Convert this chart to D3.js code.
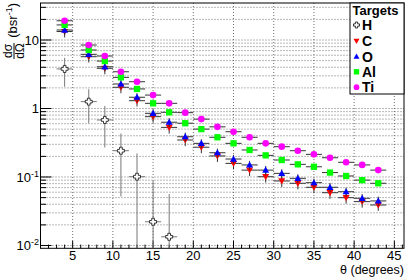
<!DOCTYPE html>
<html><head><meta charset="utf-8">
<script src="https://cdn.jsdelivr.net/npm/d3@7"></script>
<style>body{margin:0;background:#fff}svg{display:block}text{font-family:"Liberation Sans",Arial,Helvetica,sans-serif}</style>
</head><body><svg id="c" width="407" height="277"></svg>
<script>
// ---- data ----
const thetaH = [4,7,9,11,13,15,17];
const valH   = [3.78,1.26,0.68,0.242,0.101,0.0222,0.0134];
const errH   = [1.7,0.65,0.41,0.19,0.12,0.065,0.043];
const theta  = [4,7,9,11,13,15,17,19,21,23,25,27,29,31,33,35,37,39,41,43];
const thetaHalfWidth = 1;
const valC  = [13.3,5.7,3.86,2.04,1.30,0.76,0.53,0.347,0.272,0.203,0.158,0.126,0.101,0.0875,0.081,0.0708,0.059,0.0499,0.0437,0.039];
const errC  = [2.4,1.0,0.7,0.37,0.23,0.14,0.1,0.065,0.05,0.037,0.029,0.023,0.018,0.016,0.015,0.013,0.011,0.009,0.008,0.007];
const valO  = [14.0,6.18,4.07,2.28,1.46,0.851,0.63,0.387,0.31,0.226,0.183,0.150,0.126,0.113,0.0957,0.0826,0.0708,0.061,0.0489,0.0447];
const errO  = [2.1,0.9,0.6,0.34,0.22,0.13,0.095,0.058,0.046,0.034,0.027,0.022,0.019,0.017,0.014,0.012,0.011,0.009,0.0075,0.007];
const valAl = [16.6,7.15,4.93,2.85,1.93,1.19,0.88,0.61,0.50,0.38,0.31,0.248,0.207,0.177,0.153,0.141,0.116,0.1035,0.090,0.081];
const errAl = [1.2,0.5,0.35,0.2,0.13,0.085,0.06,0.043,0.035,0.027,0.022,0.017,0.015,0.012,0.011,0.01,0.008,0.007,0.006,0.006];
const valTi = [19.1,8.45,5.84,3.44,2.46,1.57,1.19,0.87,0.70,0.54,0.458,0.38,0.31,0.277,0.242,0.214,0.191,0.164,0.150,0.126];
const errTi = [1.3,0.6,0.4,0.24,0.17,0.11,0.08,0.06,0.05,0.038,0.032,0.027,0.022,0.019,0.017,0.015,0.013,0.011,0.01,0.009];
const xTicks = [5,10,15,20,25,30,35,40,45];
const yTickLabels = [{v:10,b:"10",e:""},{v:1,b:"1",e:""},{v:0.1,b:"10",e:"-1"},{v:0.01,b:"10",e:"-2"}];
const legendTitle = "Targets";
const seriesNames = ["H","C","O","Al","Ti"];

// ---- layout ----
const L=40.5, R=404, T=3, B=248.3;
const x = d3.scaleLinear().domain([1,46.2]).range([L,R]);
const y = d3.scaleLog().domain([0.0091,34.7]).range([B,T]);
const svg = d3.select("#c");

// grid
const grid = svg.append("g").attr("stroke","#000").attr("stroke-width",0.8).attr("stroke-dasharray","1,2").attr("opacity",0.7);
xTicks.forEach(t=>grid.append("line").attr("x1",x(t)).attr("x2",x(t)).attr("y1",T).attr("y2",B));
const yGridVals=[];
for(let e=-2;e<=1;e++) for(let m=1;m<=9;m++){const v=m*Math.pow(10,e); if(v>=0.0091&&v<=34.7) yGridVals.push(v);}
yGridVals.forEach(v=>grid.append("line").attr("x1",L).attr("x2",R).attr("y1",y(v)).attr("y2",y(v)));

// axes ticks
const ax = svg.append("g").attr("stroke","#000").attr("stroke-width",1);
for(let t=1;t<=46;t++){
  const len = (t%5===0)?7.4:3.7;
  ax.append("line").attr("x1",x(t)).attr("x2",x(t)).attr("y1",B).attr("y2",B-len);
}
yGridVals.forEach(v=>{
  const major = Math.abs(Math.log10(v)-Math.round(Math.log10(v)))<1e-9;
  ax.append("line").attr("x1",L).attr("x2",L+(major?11:5.5)).attr("y1",y(v)).attr("y2",y(v));
});
svg.append("rect").attr("x",L).attr("y",T).attr("width",R-L).attr("height",B-T).attr("fill","none").attr("stroke","#000").attr("stroke-width",1);

// tick labels
xTicks.forEach(t=>svg.append("text").attr("x",x(t)).attr("y",260.2).attr("text-anchor","middle").attr("font-size",13).text(t));
yTickLabels.forEach(d=>{
  const tx = svg.append("text").attr("x",39).attr("y",y(d.v)+4.6).attr("text-anchor","end").attr("font-size",13);
  tx.append("tspan").text(d.b);
  if(d.e) tx.append("tspan").attr("font-size",9).attr("dy",-5).text(d.e);
});

// axis titles
svg.append("text").attr("x",404).attr("y",274.3).attr("text-anchor","end").attr("font-size",12.5).text("θ (degrees)");
const yt = svg.append("g").attr("transform","translate(0,0) rotate(-90)");
const yt1 = yt.append("text").attr("x",-3).attr("y",17).attr("text-anchor","end").attr("font-size",13);
yt1.append("tspan").text("(bsr");
yt1.append("tspan").attr("font-size",9).attr("dy",-5).text("-1");
yt1.append("tspan").attr("dy",5).text(")");
yt.append("text").attr("x",-51).attr("y",12).attr("text-anchor","middle").attr("font-size",12).text("dσ");
yt.append("text").attr("x",-51).attr("y",24).attr("text-anchor","middle").attr("font-size",12).text("dΩ");
yt.append("line").attr("x1",-59).attr("x2",-43).attr("y1",14).attr("y2",14).attr("stroke","#000").attr("stroke-width",1);

// markers
function marker(g, type, cx, cy, color, s){
  s = s||3.5;
  if(type==="cross"){
    const a=s*0.38;
    const pts=[[-a,-s],[a,-s],[a,-a],[s,-a],[s,a],[a,a],[a,s],[-a,s],[-a,a],[-s,a],[-s,-a],[-a,-a]];
    g.append("polygon").attr("points",pts.map(p=>[cx+p[0],cy+p[1]].join(",")).join(" ")).attr("fill","#fff").attr("stroke","#333").attr("stroke-width",1);
  } else if(type==="down"){
    g.append("path").attr("d",`M${cx-s},${cy-s*0.75}L${cx+s},${cy-s*0.75}L${cx},${cy+s}Z`).attr("fill",color);
  } else if(type==="up"){
    g.append("path").attr("d",`M${cx-s},${cy+s*0.75}L${cx+s},${cy+s*0.75}L${cx},${cy-s}Z`).attr("fill",color);
  } else if(type==="square"){
    g.append("rect").attr("x",cx-s*0.9).attr("y",cy-s*0.9).attr("width",s*1.8).attr("height",s*1.8).attr("fill",color);
  } else {
    g.append("circle").attr("cx",cx).attr("cy",cy).attr("r",s*0.95).attr("fill",color);
  }
}

const series = [
  {name:seriesNames[0], xs:thetaH, v:valH, e:errH, type:"cross", color:"#333", ec:"#777"},
  {name:seriesNames[1], xs:theta, v:valC, e:errC, type:"down", color:"#ff0000", ec:"#333"},
  {name:seriesNames[2], xs:theta, v:valO, e:errO, type:"up", color:"#0000ff", ec:"#333"},
  {name:seriesNames[3], xs:theta, v:valAl, e:errAl, type:"square", color:"#00ff00", ec:"#333"},
  {name:seriesNames[4], xs:theta, v:valTi, e:errTi, type:"circle", color:"#ff00ff", ec:"#333"}
];
const plot = svg.append("g");
const clampY = v => v<=0.0091 ? B : Math.max(T, y(v));
series.forEach(s=>{
  const g = plot.append("g");
  s.xs.forEach((t,i)=>{
    const cx=x(t), cy=y(s.v[i]);
    g.append("line").attr("x1",x(t-thetaHalfWidth)).attr("x2",x(t+thetaHalfWidth)).attr("y1",cy).attr("y2",cy).attr("stroke",s.ec).attr("stroke-width",1);
    g.append("line").attr("x1",cx).attr("x2",cx).attr("y1",clampY(s.v[i]+s.e[i])).attr("y2",clampY(s.v[i]-s.e[i])).attr("stroke",s.ec).attr("stroke-width",1);
  });
  s.xs.forEach((t,i)=>marker(g,s.type,x(t),y(s.v[i]),s.color));
});

// legend
const lg = svg.append("g");
lg.append("rect").attr("x",350).attr("y",T).attr("width",R-350).attr("height",91).attr("fill","#fff").attr("stroke","#000").attr("stroke-width",1);
lg.append("text").attr("x",375.5).attr("y",15.2).attr("text-anchor","middle").attr("font-size",13).attr("font-weight","bold").text(legendTitle);
const ly=[25,41,56.5,71.8,87.2];
series.forEach((s,i)=>{
  marker(lg,s.type,356.5,ly[i],s.color,3);
  lg.append("text").attr("x",362).attr("y",ly[i]+5).attr("font-size",14).attr("font-weight","bold").text(s.name);
});
</script></body></html>
